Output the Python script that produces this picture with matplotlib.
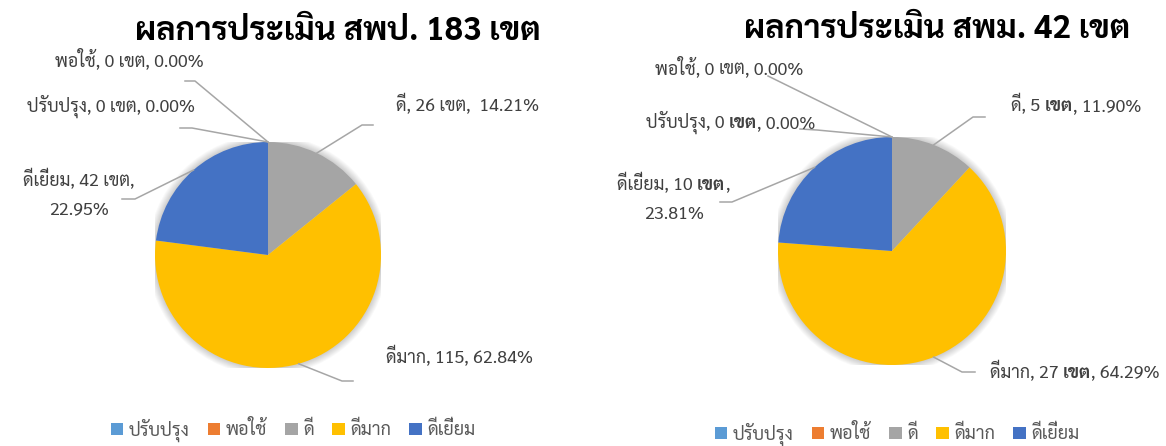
import numpy as np
import matplotlib
matplotlib.use("Agg")
from matplotlib import pyplot as plt
from matplotlib.lines import Line2D
from matplotlib.patches import Circle

plt.rcParams['font.family'] = ['Sarabun', 'TH Sarabun New', 'Noto Sans Thai', 'Loma', 'DejaVu Sans']

categories = ['ปรับปรุง', 'พอใช้', 'ดี', 'ดีมาก', 'ดีเยี่ยม']
colors = ['#5B9BD5', '#ED7D31', '#A5A5A5', '#FFC000', '#4472C4']
spp_counts = [0, 0, 26, 115, 42]
spm_counts = [0, 0, 5, 27, 10]
titles = ['ผลการประเมิน สพป. 183 เขต', 'ผลการประเมิน สพม. 42 เขต']

W, H = 1166, 446
fig = plt.figure(figsize=(W / 100, H / 100), dpi=100)
renderer = fig.canvas.get_renderer()
LINE = '#A6A6A6'
TXT = '#404040'
LBL = 12.8


def fx(x):
    return x / W


def fy(y):
    return 1 - y / H


def pieces_text(x, y, pieces, size=LBL, color=TXT):
    # pieces: list of (text, bold) drawn on one baseline, centered on x (pixels)
    objs = []
    for s, bold in pieces:
        t = fig.text(0, fy(y), s, fontsize=size, color=color, ha='left', va='baseline',
                     fontweight='bold' if bold else 'normal')
        objs.append(t)
    widths = [t.get_window_extent(renderer).width for t in objs]
    x0 = x - sum(widths) / 2
    for t, w in zip(objs, widths):
        t.set_x(fx(x0))
        x0 += w


def leader(pts):
    xs = [fx(p[0]) for p in pts]
    ys = [fy(p[1]) for p in pts]
    fig.add_artist(Line2D(xs, ys, color=LINE, lw=1.1, transform=fig.transFigure, zorder=1))


def draw_pie(cx, cy, r, counts):
    ax = fig.add_axes([fx(cx - r), fy(cy + r), 2 * r / W, 2 * r / H])
    # soft shadow
    for k in range(8):
        ax.add_patch(Circle((0, 0.0), 1.0 + 0.008 * (k + 1), color='#000000', alpha=0.025,
                            lw=0, zorder=0))
    wedges, _ = ax.pie(counts, colors=colors, startangle=90, counterclock=False,
                       wedgeprops=dict(linewidth=0))
    ax.set_xlim(-1, 1)
    ax.set_ylim(-1, 1)
    ax.set_aspect('auto')
    anchors = []
    for w in wedges:
        a = np.deg2rad((w.theta1 + w.theta2) / 2)
        anchors.append((cx + r * np.cos(a), cy - r * np.sin(a)))
    return ax, wedges, anchors


def add_legend(ax, wedges, x, y):
    ax.legend(wedges, categories, loc='center', bbox_to_anchor=(fx(x), fy(y)),
              bbox_transform=fig.transFigure, ncol=5, frameon=False, fontsize=13,
              handlelength=0.7, handleheight=0.7, handletextpad=0.3, columnspacing=1.0,
              labelcolor='#595959')


# ---------------- left: สพป.
total = sum(spp_counts)
pct = [c / total * 100 for c in spp_counts]
ax1, wedges1, anc = draw_pie(268, 255, 113, spp_counts)
fig.text(fx(338), fy(27), titles[0], fontsize=23.5, fontweight='bold', color='#000000',
         ha='center', va='center_baseline')

pieces_text(129, 66, [('%s, %d เขต, %.2f%%' % (categories[1], spp_counts[1], pct[1]), False)])
leader([(185, 81), (195, 81), anc[1]])
pieces_text(111, 112, [('%s, %d เขต, %.2f%%' % (categories[0], spp_counts[0], pct[0]), False)])
leader([(180, 128), (192, 128), anc[0]])
pieces_text(468, 111, [('%s, %d เขต,  %.2f%%' % (categories[2], spp_counts[2], pct[2]), False)])
leader([(373, 125), (362, 125), anc[2]])
pieces_text(79, 186, [('%s, %d เขต,' % (categories[4], spp_counts[4]), False)])
pieces_text(79, 214, [('%.2f%%' % pct[4], False)])
leader([(122, 199), (135, 199), anc[4]])
pieces_text(460, 363, [('%s, %d, %.2f%%' % (categories[3], spp_counts[3], pct[3]), False)])
leader([(353, 381), (342, 381), anc[3]])

add_legend(ax1, wedges1, 293, 430)

# ---------------- right: สพม.
total = sum(spm_counts)
pct = [c / total * 100 for c in spm_counts]
ax2, wedges2, anc = draw_pie(892, 251, 114, spm_counts)
fig.text(fx(937), fy(25), titles[1], fontsize=23.5, fontweight='bold', color='#000000',
         ha='center', va='center_baseline')

pieces_text(729, 74, [('%s, %d ' % (categories[1], spm_counts[1]), False), ('เขต', False),
                      (', %.2f%%' % pct[1], False)])
leader([(768, 76), anc[1]])
pieces_text(731, 128, [('%s, %d ' % (categories[0], spm_counts[0]), False), ('เขต', True),
                       (', %.2f%%' % pct[0], False)])
leader([(800, 129), (817, 130), anc[0]])
pieces_text(1076, 111, [('%s, %d ' % (categories[2], spm_counts[2]), False), ('เขต', True),
                        (', %.2f%%' % pct[2], False)])
leader([(985, 117), (973, 117), anc[2]])
pieces_text(673, 190, [('%s, %d ' % (categories[4], spm_counts[4]), False), ('เขต', True),
                       (',', False)])
pieces_text(674, 219, [('%.2f%%' % pct[4], False)])
leader([(720, 202), (732, 202), anc[4]])
pieces_text(1075, 378, [('%s, %d ' % (categories[3], spm_counts[3]), False), ('เขต', True),
                        (', %.2f%%' % pct[3], False)])
leader([(975, 372), (962, 372), anc[3]])

add_legend(ax2, wedges2, 897, 434)

fig.savefig('out.png', dpi=100)
